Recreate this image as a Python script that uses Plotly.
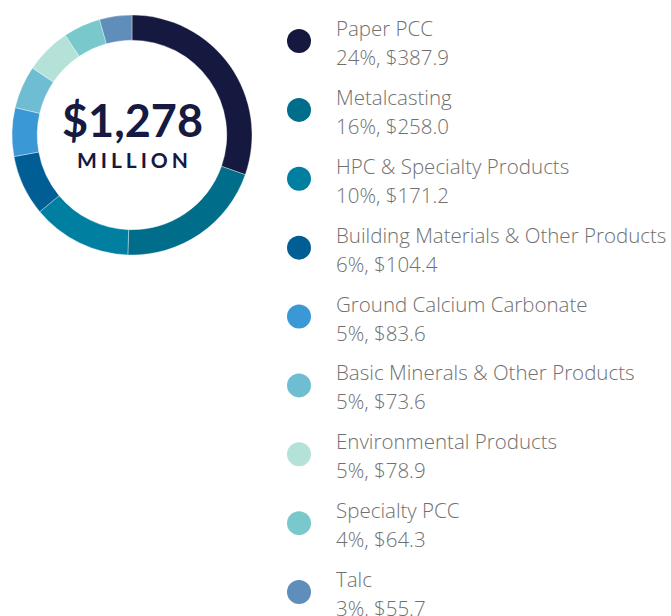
import plotly.graph_objects as go

categories = ["Paper PCC", "Metalcasting", "HPC & Specialty Products",
              "Building Materials & Other Products", "Ground Calcium Carbonate",
              "Basic Minerals & Other Products", "Environmental Products",
              "Specialty PCC", "Talc"]
values = [387.9, 258.0, 171.2, 104.4, 83.6, 73.6, 78.9, 64.3, 55.7]
percent_labels = ["24%", "16%", "10%", "6%", "5%", "5%", "5%", "4%", "3%"]
colors = ["#15183f", "#006d8a", "#007fa1", "#005e95", "#3b98d6",
          "#6fbdd3", "#b4e2d8", "#79c9cc", "#5f8ebb"]
total_label = "$1,278"
unit_label = "MILLION"

W, H = 671, 616
NAVY = "#161a40"
GREY = "#707070"
LEG_FONT = "Open Sans"

fig = go.Figure()

# donut
cx, cy, r = 132, 135, 120
fig.add_trace(go.Pie(
    labels=categories, values=values, sort=False, direction="clockwise",
    rotation=0, hole=0.79,
    marker=dict(colors=colors, line=dict(color="rgba(255,255,255,0.6)", width=0.6)),
    textinfo="none", hoverinfo="label+value", showlegend=False,
    domain=dict(x=[(cx - r) / W, (cx + r) / W], y=[1 - (cy + r) / H, 1 - (cy - r) / H]),
))

fig.add_annotation(x=cx / W, y=1 - 120 / H, xref="paper", yref="paper",
                   xanchor="center", yanchor="middle",
                   text=f"<b>{total_label}</b>", showarrow=False,
                   font=dict(family="Lato", size=45, color=NAVY, weight=900))
fig.add_annotation(x=cx / W, y=1 - 159 / H, xref="paper", yref="paper",
                   xanchor="center", yanchor="middle",
                   text="<b>" + "\u2009\u200a".join(unit_label) + "</b>", showarrow=False,
                   font=dict(family="Lato", size=21, color=NAVY, weight=900))

# legend as scatter on its own axes
idx = list(range(len(categories)))
fig.add_trace(go.Scatter(
    x=[299] * len(categories), y=idx, mode="markers",
    marker=dict(color=colors, size=24, line=dict(width=0)),
    hoverinfo="skip", showlegend=False, xaxis="x", yaxis="y",
))

for i, (name, pct, val) in enumerate(zip(categories, percent_labels, values)):
    fig.add_annotation(x=334, y=i, xref="x", yref="y", xanchor="left",
                       yanchor="middle", yshift=13, text=name, showarrow=False,
                       font=dict(family=LEG_FONT, size=20.5, color=GREY, weight=300))
    fig.add_annotation(x=334, y=i, xref="x", yref="y", xanchor="left",
                       yanchor="middle", yshift=-16, text=f"{pct}, ${val:.1f}",
                       showarrow=False,
                       font=dict(family=LEG_FONT, size=20.5, color=GREY, weight=300))

# y axis: index 0 -> 41px from top, index 8 -> 592px
span = 8 * H / (592 - 41)
a = -41 * span / H
fig.update_layout(
    width=W, height=H, margin=dict(l=0, r=0, t=0, b=0),
    paper_bgcolor="white", plot_bgcolor="rgba(0,0,0,0)",
    xaxis=dict(range=[0, W], visible=False, fixedrange=True),
    yaxis=dict(range=[a + span, a], visible=False, fixedrange=True),
)

fig.write_html("out.html", config={"displayModeBar": False},
               post_script="document.body.style.margin='0';document.body.style.overflow='hidden';")
